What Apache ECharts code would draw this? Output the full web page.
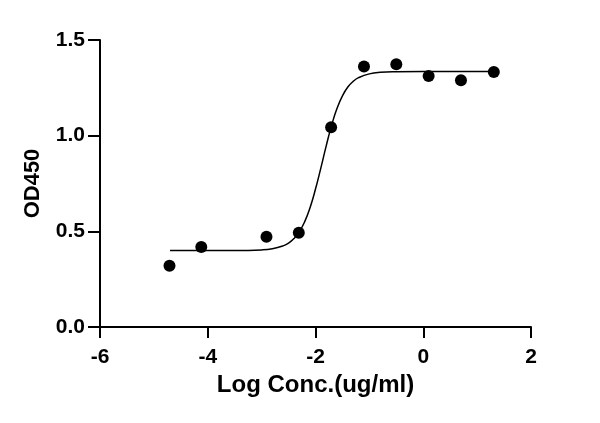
<!DOCTYPE html>
<html>
<head>
<meta charset="utf-8">
<script src="https://cdn.jsdelivr.net/npm/echarts@6/dist/echarts.min.js"></script>
<style>
  html, body { margin: 0; padding: 0; background: #fff; }
  #chart { width: 600px; height: 423px; }
</style>
</head>
<body>
<div id="chart"></div>
<script>
// measured points (log conc, OD450)
var pointX = [-4.71, -4.12, -2.91, -2.31, -1.71, -1.10, -0.50, 0.10, 0.70, 1.31];
var pointY = [0.32, 0.418, 0.472, 0.493, 1.044, 1.361, 1.373, 1.312, 1.290, 1.333];

// fitted curve
var curveX = [-4.70, -3.50, -3.00, -2.80, -2.60, -2.50, -2.40, -2.30, -2.20, -2.10, -2.00, -1.90, -1.80, -1.70, -1.60, -1.50, -1.40, -1.30, -1.20, -1.00, -0.80, -0.50, 0.00, 1.31];
var curveY = [0.400, 0.400, 0.403, 0.409, 0.424, 0.438, 0.462, 0.498, 0.551, 0.625, 0.721, 0.832, 0.948, 1.055, 1.143, 1.208, 1.254, 1.284, 1.303, 1.323, 1.331, 1.334, 1.335, 1.335];

var xTicks = [-6, 2, 2];      // min, max, interval
var yTicks = [0, 1.5, 0.5];

var font = 'Liberation Sans, Arial, sans-serif';

function pairs(xs, ys) {
    var out = [];
    for (var i = 0; i < xs.length; i++) {
        out.push([xs[i], ys[i]]);
    }
    return out;
}

var myChart = echarts.init(document.getElementById('chart'));
var option = {
    animation: false,
    grid: {
        left: 100,
        right: 69,
        top: 40,
        bottom: 96
    },
    xAxis: {
        type: 'value',
        min: xTicks[0],
        max: xTicks[1],
        interval: xTicks[2],
        name: 'Log Conc.(ug/ml)',
        nameLocation: 'middle',
        nameGap: 46,
        nameMoveOverlap: false,
        nameTextStyle: { color: '#000', fontFamily: font, fontWeight: 'bold', fontSize: 24 },
        axisLine: { onZero: false, lineStyle: { color: '#000', width: 2 } },
        axisTick: { length: 11, lineStyle: { color: '#000', width: 2 } },
        axisLabel: { color: '#000', fontFamily: font, fontWeight: 'bold', fontSize: 21, margin: 20 },
        splitLine: { show: false }
    },
    yAxis: {
        type: 'value',
        min: yTicks[0],
        max: yTicks[1],
        interval: yTicks[2],
        name: 'OD450',
        nameLocation: 'middle',
        nameRotate: 90,
        nameGap: 56,
        nameMoveOverlap: false,
        nameTextStyle: { color: '#000', fontFamily: font, fontWeight: 'bold', fontSize: 22 },
        axisLine: { show: true, onZero: false, lineStyle: { color: '#000', width: 2 } },
        axisTick: { show: true, length: 12, lineStyle: { color: '#000', width: 2 } },
        axisLabel: {
            color: '#000', fontFamily: font, fontWeight: 'bold', fontSize: 21, margin: 15,
            formatter: function (v) { return v.toFixed(1); }
        },
        splitLine: { show: false }
    },
    series: [
        {
            name: 'fit',
            type: 'line',
            smooth: true,
            showSymbol: false,
            lineStyle: { color: '#000', width: 1.5 },
            data: pairs(curveX, curveY),
            z: 2
        },
        {
            name: 'data',
            type: 'scatter',
            symbol: 'circle',
            symbolSize: 12,
            itemStyle: { color: '#000', opacity: 1 },
            data: pairs(pointX, pointY),
            z: 3
        }
    ]
};
myChart.setOption(option);
</script>
</body>
</html>
